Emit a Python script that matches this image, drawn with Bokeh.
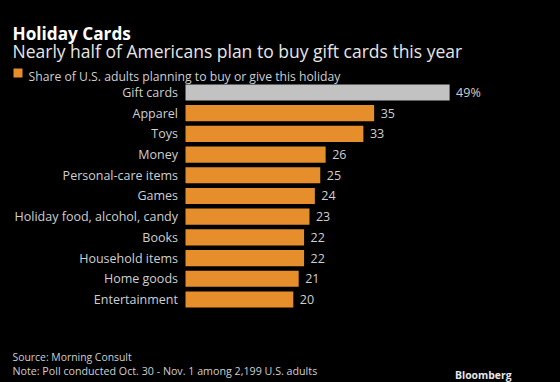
from bokeh.plotting import figure
from bokeh.models import Label, ColumnDataSource, Range1d, BoxAnnotation
from bokeh.core.properties import value
from bokeh.embed import file_html
from bokeh.resources import INLINE

categories = ["Gift cards", "Apparel", "Toys", "Money", "Personal-care items", "Games",
              "Holiday food, alcohol, candy", "Books", "Household items", "Home goods", "Entertainment"]
values = [49, 35, 33, 26, 25, 24, 23, 22, 22, 21, 20]
value_labels = ["49%", "35", "33", "26", "25", "24", "23", "22", "22", "21", "20"]
bar_colors = ["#c2c2c2"] + ["#e58e2b"] * 10

FONT = "Open Sans"
TXT = "#cfcfcf"
BG = "#000000"
W, H = 560, 382

src = ColumnDataSource(dict(cat=categories, pos=list(range(len(categories))), zero=[0] * len(values),
                            val=values, lab=value_labels, col=bar_colors))

# frame spans the whole canvas; scales put value 0 at x=185px and rows 20.7px apart
p = figure(width=W, height=H, output_backend="svg", toolbar_location=None,
           x_range=Range1d(-34.32, 69.57), y_range=Range1d(14.01, -4.444),
           min_border=0, background_fill_color=BG, border_fill_color=BG, outline_line_color=None)
p.xaxis.visible = False
p.yaxis.visible = False
p.xgrid.visible = False
p.ygrid.visible = False

p.hbar(y="pos", right="val", left=0, height=0.78, color="col", source=src, line_color=None)
p.text(x="val", y="pos", text="lab", source=src, x_offset=6.5, text_baseline="middle",
       text_color=TXT, text_font_size="12.5px", text_font=value(FONT))
p.text(x="zero", y="pos", text="cat", source=src, x_offset=-7.5, text_baseline="middle", text_align="right",
       text_color=TXT, text_font_size="12.5px", text_font=value(FONT))


def add_label(text, x, y, size, color=TXT, style="normal", align="left"):
    p.add_layout(Label(x=x, y=H - y, x_units="screen", y_units="screen", text=text,
                       text_font=FONT, text_font_size=size, text_color=color,
                       text_font_style=style, text_align=align, text_baseline="alphabetic"))


add_label("Holiday Cards", 12, 32.5, "17.2px", color="#ffffff", style="bold")
add_label("Nearly half of Americans plan to buy gift cards this year", 12, 50, "17.5px", color="#e6e6e6")
add_label("Share of U.S. adults planning to buy or give this holiday", 28, 76, "12.2px")
add_label("Source: Morning Consult", 12, 356.5, "10.4px")
add_label("Note: Poll conducted Oct. 30 - Nov. 1 among 2,199 U.S. adults", 12, 370, "10.7px")
add_label("Bloomberg", 511, 374, "10.4px", color="#e6e6e6", style="bold", align="right")

p.add_layout(BoxAnnotation(left=13, right=22, top=H - 68, bottom=H - 77,
                           left_units="screen", right_units="screen", top_units="screen", bottom_units="screen",
                           fill_color="#e58e2b", fill_alpha=1, line_color=None))

html = file_html(p, INLINE)
html = html.replace("<head>", "<head><style>html,body{background:#000000;}</style>", 1)
open("out.html", "w").write(html)
